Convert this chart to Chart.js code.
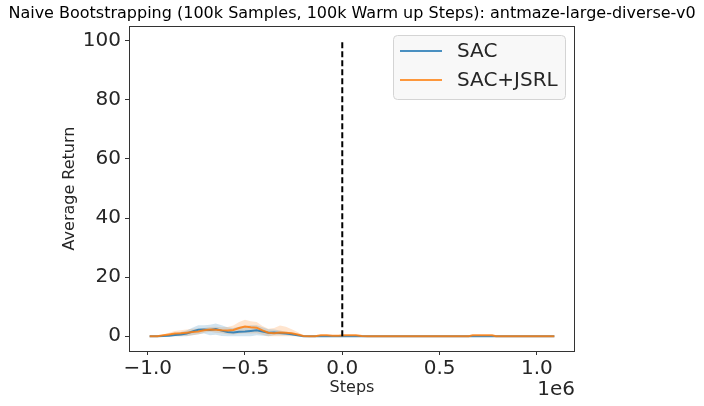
<!DOCTYPE html>
<html>
<head>
<meta charset="utf-8">
<script src="https://cdn.jsdelivr.net/npm/chart.js@4.4.1/dist/chart.umd.min.js"></script>
<style>
  html, body { margin: 0; padding: 0; background: #fff; }
  #wrap { width: 704px; height: 406px; }
</style>
</head>
<body>
<div id="wrap"><canvas id="returnChart" width="704" height="406"></canvas></div>
<script>
// training steps (in thousands)
const steps = [-990, -950, -920, -890, -860, -830, -800, -770, -740, -710, -680, -650, -620, -590, -560, -530,
  -500, -470, -440, -410, -380, -350, -320, -290, -260, -230, -200, -170, -140, -110, -80, -50, -20,
  10, 40, 70, 100, 130, 200, 300, 400, 500, 600, 650, 670, 700, 740, 770, 790, 900, 1000, 1090];

const sacMean = [0, 0, 0.1, 0.2, 0.4, 0.6, 0.9, 1.6, 2.2, 2.3, 2.1, 2.4, 1.9, 1.4, 1.3, 1.5,
  1.6, 1.8, 2.0, 1.6, 1.2, 1.3, 1.1, 0.9, 0.7, 0.3, 0, 0, 0, 0, 0, 0, 0,
  0, 0, 0, 0, 0, 0, 0, 0, 0, 0, 0, 0, 0, 0, 0, 0, 0, 0, 0];
const sacSpread = [0, 0, 0.2, 0.4, 0.6, 0.8, 1.0, 1.3, 1.5, 1.4, 1.8, 1.9, 1.8, 1.6, 1.5, 1.7,
  1.8, 1.9, 1.7, 1.4, 1.2, 1.0, 0.8, 0.6, 0.5, 0.3, 0, 0, 0, 0, 0, 0, 0,
  0, 0, 0, 0, 0, 0, 0, 0, 0, 0, 0, 0, 0, 0, 0, 0, 0, 0, 0];

const jsrlMean = [0, 0, 0.3, 0.6, 0.9, 1.0, 1.2, 1.4, 1.6, 2.0, 2.3, 2.2, 2.0, 1.9, 2.1, 2.8,
  3.3, 3.0, 2.9, 2.0, 1.2, 1.0, 1.3, 1.2, 1.0, 0.6, 0.1, 0, 0, 0.3, 0.3, 0.2, 0.2,
  0.3, 0.3, 0.3, 0.1, 0, 0, 0, 0, 0, 0, 0, 0.3, 0.3, 0.3, 0.3, 0, 0, 0, 0];
const jsrlSpread = [0, 0, 0.3, 0.6, 0.9, 1.0, 1.1, 1.1, 1.0, 0.8, 0.8, 1.0, 1.0, 1.2, 1.5, 2.0,
  2.3, 2.1, 1.9, 1.5, 1.3, 1.8, 2.3, 2.0, 1.4, 0.8, 0.2, 0, 0, 0.1, 0.1, 0.1, 0.1,
  0.1, 0.1, 0.1, 0, 0, 0, 0, 0, 0, 0, 0, 0.1, 0.1, 0.1, 0.1, 0, 0, 0, 0];

const warmupX = [0, 0];
const warmupY = [0, 100];

const xTicks = [-1000000, -500000, 0, 500000, 1000000];
const yTicks = [0, 20, 40, 60, 80, 100];

const seriesNames = ['SAC', 'SAC+JSRL'];

const FONT = 'DejaVu Sans';
const TEXT = '#262626';
const AREA = { left: 129, right: 575, top: 26, bottom: 351 };

function pts(ys) {
  return steps.map((s, i) => ({ x: s * 1000, y: ys[i] }));
}
function band(mean, spread, sign) {
  return steps.map((s, i) => ({ x: s * 1000, y: Math.max(0, mean[i] + sign * spread[i]) }));
}

const decorations = {
  id: 'decorations',
  afterDraw(chart) {
    const c = chart.ctx;
    const a = chart.chartArea;
    c.save();
    // frame
    c.strokeStyle = '#333';
    c.lineWidth = 1;
    c.strokeRect(a.left + 0.5, a.top + 0.5, a.right - a.left - 1, a.bottom - a.top);

    c.fillStyle = '#000';
    c.textBaseline = 'middle';
    c.textAlign = 'center';
    c.font = '16px ' + FONT;
    c.fillText('Naive Bootstrapping (100k Samples, 100k Warm up Steps): antmaze-large-diverse-v0', 352, 14);

    c.fillStyle = TEXT;
    c.fillText('Steps', (a.left + a.right) / 2, 388);
    c.font = '20px ' + FONT;
    c.textAlign = 'right';
    c.fillText('1e6', a.right, 390);

    c.save();
    c.translate(70, (a.top + a.bottom) / 2);
    c.rotate(-Math.PI / 2);
    c.textAlign = 'center';
    c.font = '16px ' + FONT;
    c.fillText('Average Return', 0, 0);
    c.restore();

    // legend
    const lx = 393, ly = 35, lw = 172, lh = 64;
    c.beginPath();
    c.roundRect(lx + 0.5, ly + 0.5, lw, lh, 4);
    c.fillStyle = 'rgba(247,247,247,0.85)';
    c.fill();
    c.strokeStyle = '#d4d4d4';
    c.stroke();
    const colors = ['rgba(31,119,180,0.8)', 'rgba(255,127,14,0.8)'];
    const rows = [51, 80];
    seriesNames.forEach((name, i) => {
      c.beginPath();
      c.moveTo(400, rows[i]);
      c.lineTo(442, rows[i]);
      c.strokeStyle = colors[i];
      c.lineWidth = 2;
      c.stroke();
      c.fillStyle = TEXT;
      c.font = '20px ' + FONT;
      c.textAlign = 'left';
      c.fillText(name, 457, rows[i] + 1);
    });
    c.restore();
  }
};

new Chart(document.getElementById('returnChart'), {
  type: 'line',
  data: {
    datasets: [
      { label: 'sacHigh', data: band(sacMean, sacSpread, 1), borderWidth: 0, pointRadius: 0,
        backgroundColor: 'rgba(31,119,180,0.2)', fill: '+1', order: 5 },
      { label: 'sacLow', data: band(sacMean, sacSpread, -1), borderWidth: 0, pointRadius: 0,
        backgroundColor: 'rgba(31,119,180,0.2)', fill: false, order: 5 },
      { label: 'jsrlHigh', data: band(jsrlMean, jsrlSpread, 1), borderWidth: 0, pointRadius: 0,
        backgroundColor: 'rgba(255,127,14,0.2)', fill: '+1', order: 5 },
      { label: 'jsrlLow', data: band(jsrlMean, jsrlSpread, -1), borderWidth: 0, pointRadius: 0,
        backgroundColor: 'rgba(255,127,14,0.2)', fill: false, order: 5 },
      { label: seriesNames[0], data: pts(sacMean), borderColor: 'rgba(31,119,180,0.85)',
        borderWidth: 2, pointRadius: 0, fill: false, order: 2 },
      { label: seriesNames[1], data: pts(jsrlMean), borderColor: 'rgba(255,127,14,0.85)',
        borderWidth: 2, pointRadius: 0, fill: false, order: 1 },
      { label: 'warmup', data: warmupX.map((x, i) => ({ x: x, y: warmupY[i] })), borderColor: '#000',
        borderWidth: 2, borderDash: [6, 3], pointRadius: 0, fill: false, order: 0 }
    ]
  },
  options: {
    responsive: false,
    animation: false,
    layout: { padding: { left: 0, right: 704 - AREA.right, top: AREA.top, bottom: 0 } },
    plugins: { legend: { display: false }, title: { display: false }, tooltip: { enabled: false } },
    scales: {
      x: {
        type: 'linear',
        min: -1096000,
        max: 1196000,
        afterFit: (s) => { s.height = 406 - AREA.bottom; },
        afterBuildTicks: (s) => { s.ticks = xTicks.map(v => ({ value: v })); },
        grid: { drawOnChartArea: false, drawTicks: true, tickLength: 4, color: '#333' },
        border: { display: false },
        ticks: {
          padding: 2,
          color: TEXT,
          font: { family: FONT, size: 20 },
          maxRotation: 0,
          callback: (v) => (v < 0 ? '\u2212' : '') + Math.abs(v / 1e6).toFixed(1)
        }
      },
      y: {
        min: -5,
        max: 105,
        afterFit: (s) => { s.width = AREA.left; },
        afterBuildTicks: (s) => { s.ticks = yTicks.map(v => ({ value: v })); },
        grid: { drawOnChartArea: false, drawTicks: true, tickLength: 4, color: '#333' },
        border: { display: false },
        ticks: {
          padding: 4,
          color: TEXT,
          font: { family: FONT, size: 20 },
          callback: (v) => String(v)
        }
      }
    }
  },
  plugins: [decorations]
});
</script>
</body>
</html>
